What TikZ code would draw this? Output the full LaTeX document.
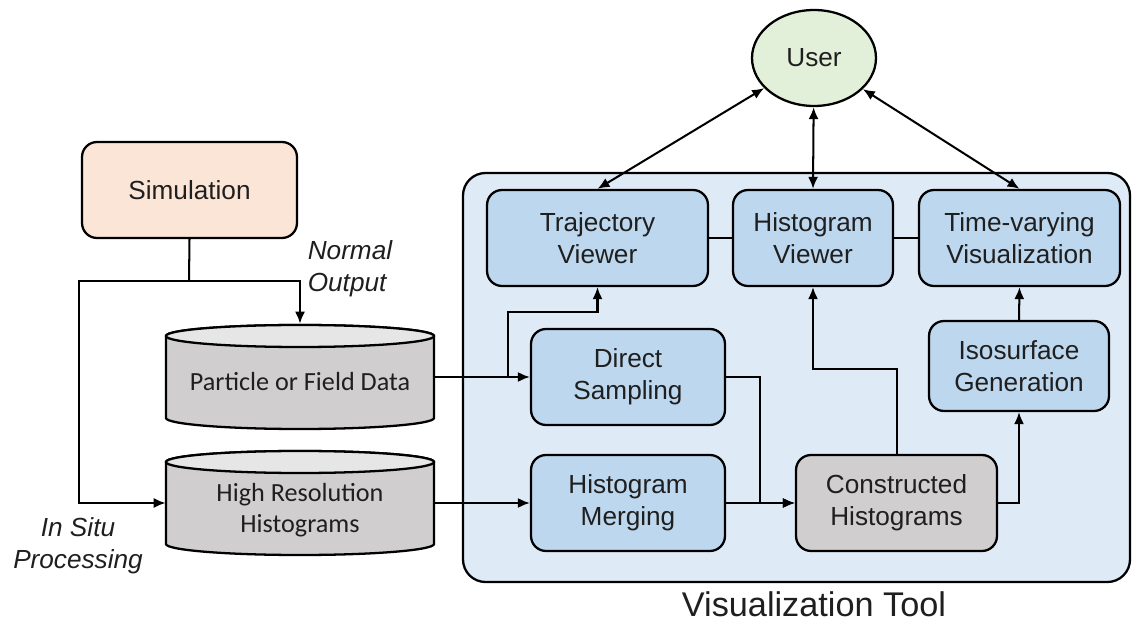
\documentclass[tikz,border=0pt]{standalone}
\usepackage{fontspec}
\setmainfont{Liberation Sans}
\newfontfamily\calfont{Carlito}
\usetikzlibrary{arrows.meta, shapes.geometric}

\definecolor{simfill}{HTML}{FBE5D6}
\definecolor{userfill}{HTML}{E2F0D9}
\definecolor{toolfill}{HTML}{DEEBF7}
\definecolor{boxfill}{HTML}{BDD7EE}
\definecolor{datafill}{HTML}{D0CECE}
\definecolor{datatop}{HTML}{E7E6E6}

\begin{document}
\begin{tikzpicture}[x=0.02cm, y=0.02cm,
        txt/.style={font=\fontsize{14.9}{18}\selectfont, text=black!88},
        box/.style={txt, draw, line width=1.3pt, rounded corners=0.3cm, fill=boxfill, align=center, inner sep=0pt, minimum height=1.92cm},
        link/.style={line width=1.15pt},
        flow/.style={link, -{Latex[length=6.8pt, width=5.7pt]}},
        both/.style={link, {Latex[length=6.8pt, width=5.7pt]}-{Latex[length=6.8pt, width=5.7pt]}}]
        \useasboundingbox (0,0) rectangle (1132,-624);

        % tool panel
        \draw[line width=1.3pt, fill=toolfill, rounded corners=0.45cm] (463,-173) rectangle (1130,-582);
        \node[txt, font=\fontsize{19.5}{23}\selectfont, anchor=base, inner sep=0pt] (tool) at (814,-616) {Visualization Tool};

        % data stores
        \foreach \y in {-377,-503} {
            \draw[line width=1.3pt, fill=datafill] (166,\y+41) -- (166,\y-41) arc[start angle=180, end angle=360, x radius=134, y radius=11] -- (434,\y+41) arc[start angle=0, end angle=180, x radius=134, y radius=11] -- cycle;
            \draw[line width=1.3pt, fill=datatop] (300,\y+41) ellipse[x radius=134, y radius=11];
        }
        \node[txt, font=\calfont\fontsize{14.9}{18}\selectfont, minimum width=5.36cm, minimum height=2.32cm, inner sep=0pt] (pdata) at (300,-382) {Particle or Field Data};
        \node[txt, font=\calfont\fontsize{14.9}{18}\selectfont, minimum width=5.36cm, minimum height=2.1cm, inner sep=0pt, align=center] (hres) at (300,-510) {High Resolution\\Histograms};

        \node[box, fill=simfill, minimum width=4.3cm] (sim) at (189.5,-190) {Simulation};
        \node[txt, draw, line width=1.3pt, fill=userfill, ellipse, minimum width=2.48cm, minimum height=1.92cm, inner sep=0pt] (user) at (814,-58) {User};

        \node[box, minimum width=4.42cm] (traj) at (597.5,-238) {Trajectory\\Viewer};
        \node[box, minimum width=3.2cm] (hview) at (813,-238) {Histogram\\Viewer};
        \node[box, minimum width=4.02cm] (tvis) at (1019.5,-238) {Time-varying\\Visualization};
        \node[box, minimum width=3.88cm] (dsamp) at (628,-377) {Direct\\Sampling};
        \node[box, minimum width=3.88cm] (hmerge) at (628,-503) {Histogram\\Merging};
        \node[box, fill=datafill, minimum width=4.02cm] (chist) at (896.5,-503) {Constructed\\Histograms};
        \node[box, minimum width=3.6cm, minimum height=1.8cm] (iso) at (1019,-366) {Isosurface\\Generation};

        \node[txt, font=\itshape\fontsize{14.9}{18}\selectfont, align=left] (normal) at (350,-269) {Normal\\Output};
        \node[txt, font=\itshape\fontsize{14.9}{18}\selectfont, align=center] (insitu) at (78,-546) {In Situ\\Processing};

        % simulation output
        \coordinate (split) at (189,-281);
        \draw[link] (sim.south) -- (split);
        \draw[flow] (split) -| (pdata.north);
        \draw[flow] (split) -- (79,-281) |- (hmerge.west -| hres.west);

        % into the tool
        \coordinate (fork) at (508,-377);
        \draw[flow] (dsamp.west -| pdata.east) -- (dsamp.west);
        \draw[flow] (fork) -- (508,-312) -| (traj.south);
        \draw[flow] (hmerge.west -| hres.east) -- (hmerge.west);
        \draw[flow] (dsamp.east) -- (760,-377) |- (chist.west);
        \draw[flow] (hmerge.east) -- (chist.west);
        \draw[flow] (chist.north) -- ++(0,85) -| (hview.south);
        \draw[flow] (chist.east) -| (iso.south);
        \draw[flow] (iso.north) -- (tvis.south);

        \draw[link] (traj.east) -- (hview.west);
        \draw[link] (hview.east) -- (tvis.west);

        \draw[both] (user) -- (traj.north);
        \draw[both] (user) -- (hview.north);
        \draw[both] (user) -- (tvis.north);
\end{tikzpicture}
\end{document}
